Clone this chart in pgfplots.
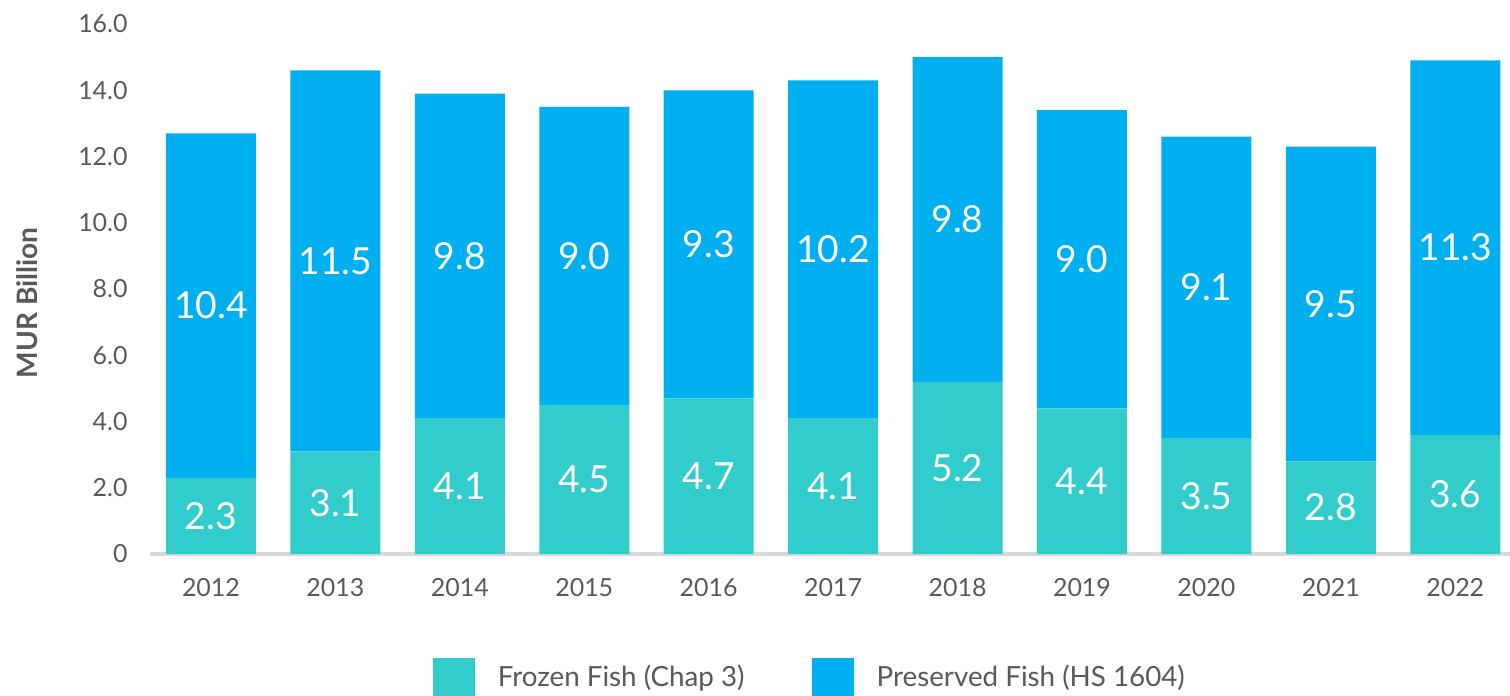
\documentclass[border=0pt]{standalone}
\usepackage{fontspec}
\setmainfont{Lato}
\usepackage{pgfplots}
\usepackage{pgfplotstable}
\pgfplotsset{compat=1.18}
\definecolor{FrozenTeal}{RGB}{51,204,204}
\definecolor{PreservedBlue}{RGB}{0,175,239}
\definecolor{LabelGray}{RGB}{89,89,89}
\definecolor{AxisGray}{RGB}{217,217,217}

% MUR billion, by year
\pgfplotstableread{
x  year frozen preserved
0  2012 2.3 10.4
1  2013 3.1 11.5
2  2014 4.1 9.8
3  2015 4.5 9.0
4  2016 4.7 9.3
5  2017 4.1 10.2
6  2018 5.2 9.8
7  2019 4.4 9.0
8  2020 3.5 9.1
9  2021 2.8 9.5
10 2022 3.6 11.3
}\fishdata

\pgfplotsset{
  fishframe/.style={
    at={(0,0)}, anchor=south west,
    scale only axis, width=13.6cm, height=5.3cm,
    xmin=-0.49, xmax=10.44, ymin=0, ymax=16,
    /pgf/number format/assume math mode=true,
  },
}

\begin{document}
\begin{tikzpicture}
\path[use as bounding box] (-1.5cm,-1.41cm) rectangle (13.6cm,5.54cm);
\begin{axis}[
  fishframe,
  ybar stacked,
  bar width=0.9cm,
  axis lines=left,
  axis line style={-},
  y axis line style={draw=none},
  x axis line style={draw=AxisGray, line width=1pt},
  major tick length=0pt,
  xtick={0,...,10},
  xticklabels={2012,2013,2014,2015,2016,2017,2018,2019,2020,2021,2022},
  ytick={0,2,...,16},
  yticklabels={0,2.0,4.0,6.0,8.0,10.0,12.0,14.0,16.0},
  tick label style={font=\fontsize{7.1}{8}\selectfont, text=LabelGray},
  xticklabel style={yshift=-1.2mm},
  yticklabel style={xshift=-1mm},
  ylabel={MUR Billion},
  every axis y label/.style={at={(axis description cs:-0.0904,0.474)}, rotate=90, anchor=center,
    font=\bfseries\fontsize{8}{9}\selectfont, text=LabelGray},
  legend columns=2,
  legend style={at={(axis description cs:0.487,-0.194)}, anchor=north, draw=none,
    font=\fontsize{7.9}{10}\selectfont, text=LabelGray, inner sep=0pt,
    /tikz/every even column/.append style={column sep=0.6cm},
    /tikz/every odd column/.append style={column sep=0.16cm}},
  legend image code/.code={\fill[#1] (0cm,-0.21cm) rectangle (0.42cm,0.21cm);},
]
\addplot[fill=FrozenTeal, draw=none] table[x=x, y=frozen] {\fishdata};
\addplot[fill=PreservedBlue, draw=none] table[x=x, y=preserved] {\fishdata};
\legend{Frozen Fish (Chap 3), Preserved Fish (HS 1604)}
\end{axis}
% value labels in the middle of each segment
\begin{axis}[
  fishframe,
  hide axis,
  nodes near coords,
  point meta=explicit symbolic,
  every node near coord/.append style={anchor=center, text=white,
    font=\fontsize{10.6}{12}\selectfont},
]
\addplot[draw=none, mark=none, nodes near coords align=center]
  table[x=x, y expr=\thisrow{frozen}/2, meta=frozen] {\fishdata};
\addplot[draw=none, mark=none, nodes near coords align=center]
  table[x=x, y expr=\thisrow{frozen}+\thisrow{preserved}/2, meta=preserved] {\fishdata};
\end{axis}
\end{tikzpicture}
\end{document}
